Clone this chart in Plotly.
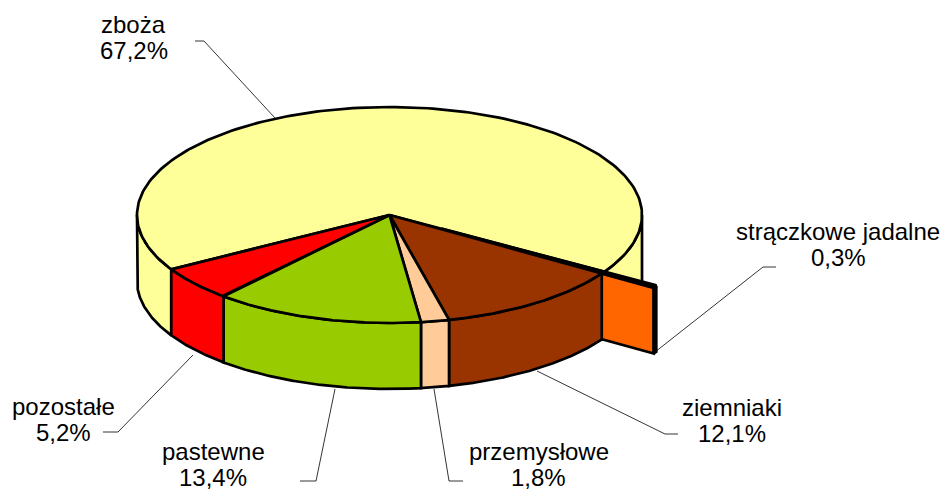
import numpy as np
import plotly.graph_objects as go

categories = ["zboża", "strączkowe jadalne", "ziemniaki", "przemysłowe", "pastewne", "pozostałe"]
shares = [67.2, 0.3, 12.1, 1.8, 13.4, 5.2]
share_labels = ["67,2%", "0,3%", "12,1%", "1,8%", "13,4%", "5,2%"]
colors = ["#FFFF99", "#FF6600", "#993300", "#FFCC99", "#99CC00", "#FF0000"]

CX, CY, RX, RY, DEPTH = 389.5, 215.0, 252.5, 108.0, 66.0
START = 239.8
LW = 2.7
EXPLODED = 1
OFFSET = (52.0, 14.0)

boundaries = START + np.concatenate([[0], np.cumsum(shares)]) * 3.6


def rim(a, b, n=200):
    t = np.radians(np.linspace(a, b, n))
    return RX * np.sin(t), -RY * np.cos(t)


fig = go.Figure()


def poly(xs, ys, fill, lw=LW):
    fig.add_trace(go.Scatter(x=list(xs), y=list(ys), mode="lines", fill="toself", fillcolor=fill,
                             line=dict(color="black", width=lw), hoverinfo="skip", showlegend=False))


def wedge_top(a, b, fill, off=(0, 0), lw=LW):
    x, y = rim(a, b)
    poly(np.r_[CX + off[0], CX + off[0] + x, CX + off[0]], np.r_[CY + off[1], CY + off[1] + y, CY + off[1]], fill, lw)


def wall(a, b, fill, off=(0, 0)):
    lo, hi = max(a, 90), min(b, 270)
    if lo >= hi:
        return
    x, y = rim(lo, hi)
    xs = CX + off[0] + x
    ys = CY + off[1] + y
    poly(np.r_[xs, xs[::-1], xs[0]], np.r_[ys, ys[::-1] + DEPTH, ys[0]], fill)


a0, a1 = boundaries[0], boundaries[1]
wall(a0, 270, colors[0])
wall(a0 - 360, a1 - 360, colors[0])

ae, be = boundaries[EXPLODED] - 360, boundaries[EXPLODED + 1] - 360
px, py = rim(be, be, 1)
ax, ay = CX + OFFSET[0], CY + OFFSET[1]
ox, oy = ax + px[0], ay + py[0]
poly([ax, ox, ox, ax, ax], [ay, oy, oy + DEPTH, ay + DEPTH, ay], colors[EXPLODED])
wall(ae, be, colors[EXPLODED], OFFSET)

for i in range(2, 6):
    wall(boundaries[i] - 360, boundaries[i + 1] - 360, colors[i])

wedge_top(a0, a1, colors[0])
wedge_top(ae, be, colors[EXPLODED], OFFSET, lw=3.5)
for i in range(2, 6):
    wedge_top(boundaries[i] - 360, boundaries[i + 1] - 360, colors[i])

leaders = {
    "zboża": ([195, 204, 275], [41, 41, 118]),
    "strączkowe jadalne": ([776, 763, 655], [267, 267, 352]),
    "ziemniaki": ([678, 665, 537], [434, 434, 371]),
    "przemysłowe": ([463, 449, 434], [481, 481, 389]),
    "pastewne": ([300, 316, 335], [481, 481, 389]),
    "pozostałe": ([103, 118, 193], [432, 432, 355]),
}
for xs, ys in leaders.values():
    fig.add_trace(go.Scatter(x=xs, y=ys, mode="lines", line=dict(color="black", width=0.8),
                             hoverinfo="skip", showlegend=False))

label_pos = {
    "zboża": (133.5, 24, 50),
    "strączkowe jadalne": (838, 231, 257),
    "ziemniaki": (732, 407, 433),
    "przemysłowe": (538.5, 451.5, 477.5),
    "pastewne": (213, 451, 477),
    "pozostałe": (63, 406, 432),
}
for name, pct in zip(categories, share_labels):
    x, y1, y2 = label_pos[name]
    for text, y in ((name, y1), (pct, y2)):
        fig.add_annotation(x=x, y=y, text=text, showarrow=False, xanchor="center", yanchor="middle",
                           font=dict(family="Liberation Sans", size=24, color="black"), borderpad=0, borderwidth=0)

fig.update_layout(width=941, height=491, margin=dict(l=0, r=0, t=0, b=0),
                  plot_bgcolor="white", paper_bgcolor="white", showlegend=False,
                  xaxis=dict(range=[0, 941], visible=False, fixedrange=True),
                  yaxis=dict(range=[491, 0], visible=False, fixedrange=True))
fig.write_html("out.html", config={"displayModeBar": False},
               post_script="document.body.style.margin='0';document.documentElement.style.overflow='hidden';")
